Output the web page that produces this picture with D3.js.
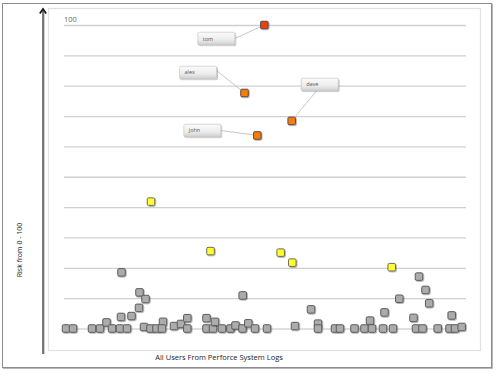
<!DOCTYPE html>
<html>
<head>
<meta charset="utf-8">
<script src="https://cdn.jsdelivr.net/npm/d3@7"></script>
<style>
  html, body { margin: 0; padding: 0; background: #fff; }
  svg { display: block; font-family: "Open Sans", "DejaVu Sans", sans-serif; }
</style>
</head>
<body>
<div id="chart"></div>
<script>
// Risk scatter: every Perforce user, placed by index along x, by risk score on y.

// --- data ---
// low-risk users (gray): [user position, risk]
const lowRiskUsers = [
  [2, 0], [9, 0], [28, 0], [36, 0], [42.5, 2], [48, 0], [57.5, 18.5], [57, 3.8],
  [56, 0], [63, 0], [67.5, 4.1], [75, 6.8], [75.5, 11.9], [81.5, 9.7], [80, 0.5],
  [86.5, 0], [92.5, 0], [99, 2.2], [98, 0], [110, 0.8], [117, 1.5], [123.3, 3.4],
  [123.3, 0], [142.5, 3.4], [142.5, 0], [149, 0], [151, 2.2], [158, 0], [166.5, 0],
  [171.5, 1], [178.7, 10.9], [178.5, 0], [184.3, 1.7], [191, 0], [203, 0],
  [231, 0.8], [247, 6.3], [254, 1.6], [254, 0], [271, 0], [276, 0], [290.5, 0],
  [300.5, 0], [306, 2.6], [308, 0], [319, 0], [320.5, 5.3], [329, 0], [335.3, 9.8],
  [349.5, 3.5], [352, 0], [355, 17.1], [361.5, 12.7], [365.2, 8.3], [358.5, 0],
  [373.7, 0], [385.5, 0], [387.7, 4.3], [391, 0], [397.7, 0.5]
];

// medium-risk users (yellow)
const mediumRiskUsers = [
  [87, 41.8], [146.5, 25.5], [216.7, 25], [228.3, 21.7], [327.7, 20.2]
];

// high-risk users, named
const highRiskNames  = ["tom", "alex", "dave", "john"];
const highRiskX      = [200.3, 180.5, 227.7, 193.3];
const highRiskScores = [100, 77.6, 68.4, 63.6];

const yTicks = [0, 10, 20, 30, 40, 50, 60, 70, 80, 90, 100];

// callout box offsets from the point centre (layout only)
const calloutOffsets = { tom: [-48, 13.5], alex: [-46.5, -20.5], dave: [28, -36.5], john: [-55, -5] };

const W = 500, H = 376;
const plot = { left: 64, right: 466, top: 25, bottom: 328.5 };

const svg = d3.select("#chart").append("svg")
  .attr("width", W).attr("height", H).attr("viewBox", `0 0 ${W} ${H}`);

const defs = svg.append("defs");

const shadow = defs.append("filter").attr("id", "shadow")
  .attr("x", "-20%").attr("y", "-20%").attr("width", "150%").attr("height", "160%");
shadow.append("feDropShadow")
  .attr("dx", 0.8).attr("dy", 0.8).attr("stdDeviation", 0.7)
  .attr("flood-color", "#000").attr("flood-opacity", 0.35);

const boxGrad = defs.append("linearGradient").attr("id", "boxGrad")
  .attr("x1", 0).attr("y1", 0).attr("x2", 0).attr("y2", 1);
boxGrad.append("stop").attr("offset", "0%").attr("stop-color", "#fbfbfb");
boxGrad.append("stop").attr("offset", "60%").attr("stop-color", "#ececec");
boxGrad.append("stop").attr("offset", "100%").attr("stop-color", "#cfcfcf");

// Outer frame
svg.append("rect")
  .attr("x", 2.5).attr("y", 3.5).attr("width", 489).attr("height", 364)
  .attr("fill", "#fff").attr("stroke", "#8c8c8c").attr("stroke-width", 1)
  .attr("filter", "url(#shadow)");

// Inner plot frame
svg.append("rect")
  .attr("x", 48.5).attr("y", 8.5).attr("width", 432).attr("height", 342)
  .attr("fill", "#fff").attr("stroke", "#e2e2e2").attr("stroke-width", 1.2);

const x = d3.scaleLinear().domain([0, 400]).range([plot.left, plot.left + 400]);
const y = d3.scaleLinear().domain([0, 100]).range([plot.bottom, plot.top]);

// Gridlines
const grid = svg.append("g")
  .attr("transform", `translate(0,0)`)
  .call(d3.axisLeft(y).tickValues(yTicks).tickSize(-(plot.right - plot.left)).tickFormat(""))
  .attr("transform", `translate(${plot.left},0)`);
grid.select(".domain").remove();
grid.selectAll(".tick line")
  .attr("stroke", d => d === 0 ? "#d6d6d6" : "#d0d0d0")
  .attr("stroke-width", 1.3);

svg.append("text")
  .attr("x", plot.left).attr("y", y(100) - 3.5)
  .attr("font-size", "7.5px").attr("fill", "#666")
  .text("100");

// Y axis arrow
svg.append("line")
  .attr("x1", 44.2).attr("x2", 44.2).attr("y1", 12).attr("y2", 354)
  .attr("stroke", "#bbb").attr("stroke-width", 1);
svg.append("line")
  .attr("x1", 43).attr("x2", 43).attr("y1", 11).attr("y2", 354)
  .attr("stroke", "#222").attr("stroke-width", 1.2);
svg.append("path")
  .attr("d", "M39.8,13.5 L43,9 L46.2,13.5")
  .attr("fill", "none").attr("stroke", "#111").attr("stroke-width", 1.6);

// Axis titles
svg.append("text")
  .attr("transform", "translate(22,250) rotate(-90)")
  .attr("text-anchor", "middle")
  .attr("font-size", "7px").attr("fill", "#222")
  .text("Risk from 0 - 100");

svg.append("text")
  .attr("x", 219).attr("y", 360)
  .attr("text-anchor", "middle")
  .attr("font-size", "7.5px").attr("fill", "#222")
  .text("All Users From Perforce System Logs");

// Markers
const S = 7.5;
function drawMarkers(data, fill, stroke) {
  svg.append("g").selectAll("rect").data(data).join("rect")
    .attr("x", d => x(d[0]) - S / 2)
    .attr("y", d => y(d[1]) - S / 2)
    .attr("width", S).attr("height", S)
    .attr("rx", 1.3)
    .attr("fill", fill).attr("stroke", stroke).attr("stroke-width", 1)
    .attr("filter", "url(#shadow)");
}

drawMarkers(lowRiskUsers, "#acacac", "#5c5c5c");
drawMarkers(mediumRiskUsers, "#ffff33", "#6e6e52");

const high = highRiskNames.map((name, i) => ({ name, ux: highRiskX[i], score: highRiskScores[i] }));

// Callouts: leader lines then boxes
const bw = 37, bh = 12.5;
high.forEach(d => {
  const px = x(d.ux), py = y(d.score);
  const [ox, oy] = calloutOffsets[d.name];
  const cx = px + ox, cy = py + oy;
  // leader starts at box edge facing the point
  let sx, sy;
  if (d.name === "dave") { sx = cx - 3; sy = cy + bh / 2; }
  else { sx = cx + bw / 2; sy = cy + (d.name === "alex" ? -2 : 0); }
  svg.append("line")
    .attr("x1", sx).attr("y1", sy).attr("x2", px).attr("y2", py)
    .attr("stroke", "#c8c8c8").attr("stroke-width", 1);
  svg.append("rect")
    .attr("x", cx - bw / 2).attr("y", cy - bh / 2)
    .attr("width", bw).attr("height", bh).attr("rx", 1.5)
    .attr("fill", "url(#boxGrad)").attr("stroke", "#c4c4c4").attr("stroke-width", 0.6)
    .attr("filter", "url(#shadow)");
  svg.append("text")
    .attr("x", cx - bw / 2 + 5).attr("y", cy + 2)
    .attr("font-size", "5.5px").attr("fill", "#555")
    .text(d.name);
});

svg.append("g").selectAll("rect").data(high).join("rect")
  .attr("x", d => x(d.ux) - S / 2)
  .attr("y", d => y(d.score) - S / 2)
  .attr("width", S).attr("height", S).attr("rx", 1)
  .attr("fill", d => d.score >= 90 ? "#ee3f06" : "#fb7d05")
  .attr("stroke", "#5b4a50").attr("stroke-width", 1)
  .attr("filter", "url(#shadow)");
</script>
</body>
</html>
